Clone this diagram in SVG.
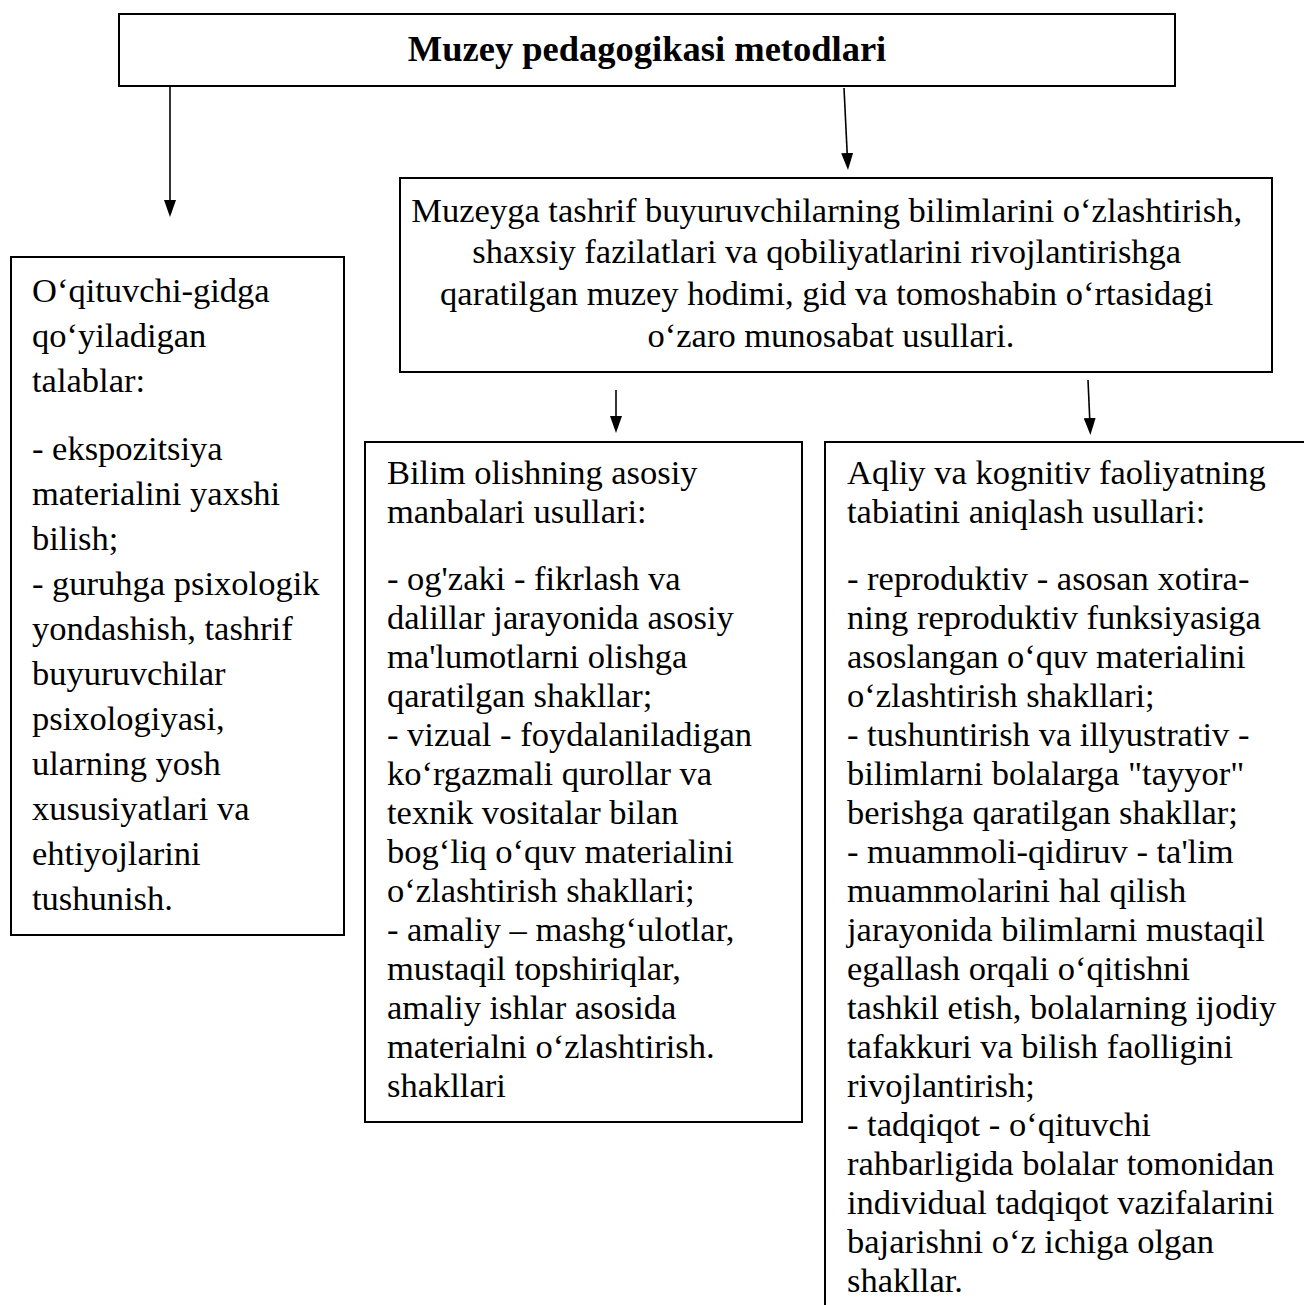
<svg xmlns="http://www.w3.org/2000/svg" width="1304" height="1305" viewBox="0 0 1304 1305">
<style>
.box{fill:#fff;stroke:#000;stroke-width:2}
.t{font-family:"Liberation Serif","DejaVu Serif",serif;font-size:34.5px;fill:#000}
.h{font-family:"Liberation Serif","DejaVu Serif",serif;font-size:36.5px;font-weight:bold;fill:#000}
.c{stroke:#000;stroke-width:1.6;fill:none;marker-end:url(#ah)}
</style>
<defs>
<marker id="ah" markerUnits="userSpaceOnUse" markerWidth="17" markerHeight="12" viewBox="0 0 17 12" refX="7" refY="6" orient="auto">
<path d="M0,0 L17,6 L0,12 Z" fill="#000"/>
</marker>
</defs>
<rect width="1304" height="1305" fill="#fff"/>
<g id="connectors">
<line class="c" x1="170" y1="86" x2="170" y2="207"/>
<line class="c" x1="844" y1="88" x2="847.5" y2="160"/>
<line class="c" x1="616" y1="390" x2="616" y2="423"/>
<line class="c" x1="1088" y1="380" x2="1090" y2="425"/>
</g>
<g id="title">
<rect class="box" x="119" y="14" width="1056" height="72"/>
<text class="h" x="647" y="61" text-anchor="middle">Muzey pedagogikasi metodlari</text>
</g>
<g id="teacher">
<rect class="box" x="11" y="257" width="333" height="678"/>
<text class="t" x="32">
<tspan x="32" y="302">O‘qituvchi-gidga</tspan>
<tspan x="32" y="347">qo‘yiladigan</tspan>
<tspan x="32" y="392">talablar:</tspan>
<tspan x="32" y="460">- ekspozitsiya</tspan>
<tspan x="32" y="505">materialini yaxshi</tspan>
<tspan x="32" y="550">bilish;</tspan>
<tspan x="32" y="595">- guruhga psixologik</tspan>
<tspan x="32" y="640">yondashish, tashrif</tspan>
<tspan x="32" y="685">buyuruvchilar</tspan>
<tspan x="32" y="730">psixologiyasi,</tspan>
<tspan x="32" y="775">ularning yosh</tspan>
<tspan x="32" y="820">xususiyatlari va</tspan>
<tspan x="32" y="865">ehtiyojlarini</tspan>
<tspan x="32" y="910">tushunish.</tspan>
</text>
</g>
<g id="interaction">
<rect class="box" x="400" y="178" width="872" height="194"/>
<text class="t" text-anchor="middle">
<tspan x="831" y="222">Muzeyga tashrif buyuruvchilarning bilimlarini o‘zlashtirish,</tspan>
<tspan x="831" y="263">shaxsiy fazilatlari va qobiliyatlarini rivojlantirishga</tspan>
<tspan x="831" y="305">qaratilgan muzey hodimi, gid va tomoshabin o‘rtasidagi</tspan>
<tspan x="831" y="347">o‘zaro munosabat usullari.</tspan>
</text>
</g>
<g id="sources">
<rect class="box" x="365" y="442" width="437" height="680"/>
<text class="t">
<tspan x="387" y="484">Bilim olishning asosiy</tspan>
<tspan x="387" y="523">manbalari usullari:</tspan>
<tspan x="387" y="590">- og'zaki - fikrlash va</tspan>
<tspan x="387" y="629">dalillar jarayonida asosiy</tspan>
<tspan x="387" y="668">ma'lumotlarni olishga</tspan>
<tspan x="387" y="707">qaratilgan shakllar;</tspan>
<tspan x="387" y="746">- vizual - foydalaniladigan</tspan>
<tspan x="387" y="785">ko‘rgazmali qurollar va</tspan>
<tspan x="387" y="824">texnik vositalar bilan</tspan>
<tspan x="387" y="863">bog‘liq o‘quv materialini</tspan>
<tspan x="387" y="902">o‘zlashtirish shakllari;</tspan>
<tspan x="387" y="941">- amaliy – mashg‘ulotlar,</tspan>
<tspan x="387" y="980">mustaqil topshiriqlar,</tspan>
<tspan x="387" y="1019">amaliy ishlar asosida</tspan>
<tspan x="387" y="1058">materialni o‘zlashtirish.</tspan>
<tspan x="387" y="1097">shakllari</tspan>
</text>
</g>
<g id="cognitive">
<rect class="box" x="825" y="442" width="500" height="900"/>
<text class="t">
<tspan x="847" y="484">Aqliy va kognitiv faoliyatning</tspan>
<tspan x="847" y="523">tabiatini aniqlash usullari:</tspan>
<tspan x="847" y="590">- reproduktiv - asosan xotira-</tspan>
<tspan x="847" y="629">ning reproduktiv funksiyasiga</tspan>
<tspan x="847" y="668">asoslangan o‘quv materialini</tspan>
<tspan x="847" y="707">o‘zlashtirish shakllari;</tspan>
<tspan x="847" y="746">- tushuntirish va illyustrativ -</tspan>
<tspan x="847" y="785">bilimlarni bolalarga "tayyor"</tspan>
<tspan x="847" y="824">berishga qaratilgan shakllar;</tspan>
<tspan x="847" y="863">- muammoli-qidiruv - ta'lim</tspan>
<tspan x="847" y="902">muammolarini hal qilish</tspan>
<tspan x="847" y="941">jarayonida bilimlarni mustaqil</tspan>
<tspan x="847" y="980">egallash orqali o‘qitishni</tspan>
<tspan x="847" y="1019">tashkil etish, bolalarning ijodiy</tspan>
<tspan x="847" y="1058">tafakkuri va bilish faolligini</tspan>
<tspan x="847" y="1097">rivojlantirish;</tspan>
<tspan x="847" y="1136">- tadqiqot - o‘qituvchi</tspan>
<tspan x="847" y="1175">rahbarligida bolalar tomonidan</tspan>
<tspan x="847" y="1214">individual tadqiqot vazifalarini</tspan>
<tspan x="847" y="1253">bajarishni o‘z ichiga olgan</tspan>
<tspan x="847" y="1292">shakllar.</tspan>
</text>
</g>
</svg>
